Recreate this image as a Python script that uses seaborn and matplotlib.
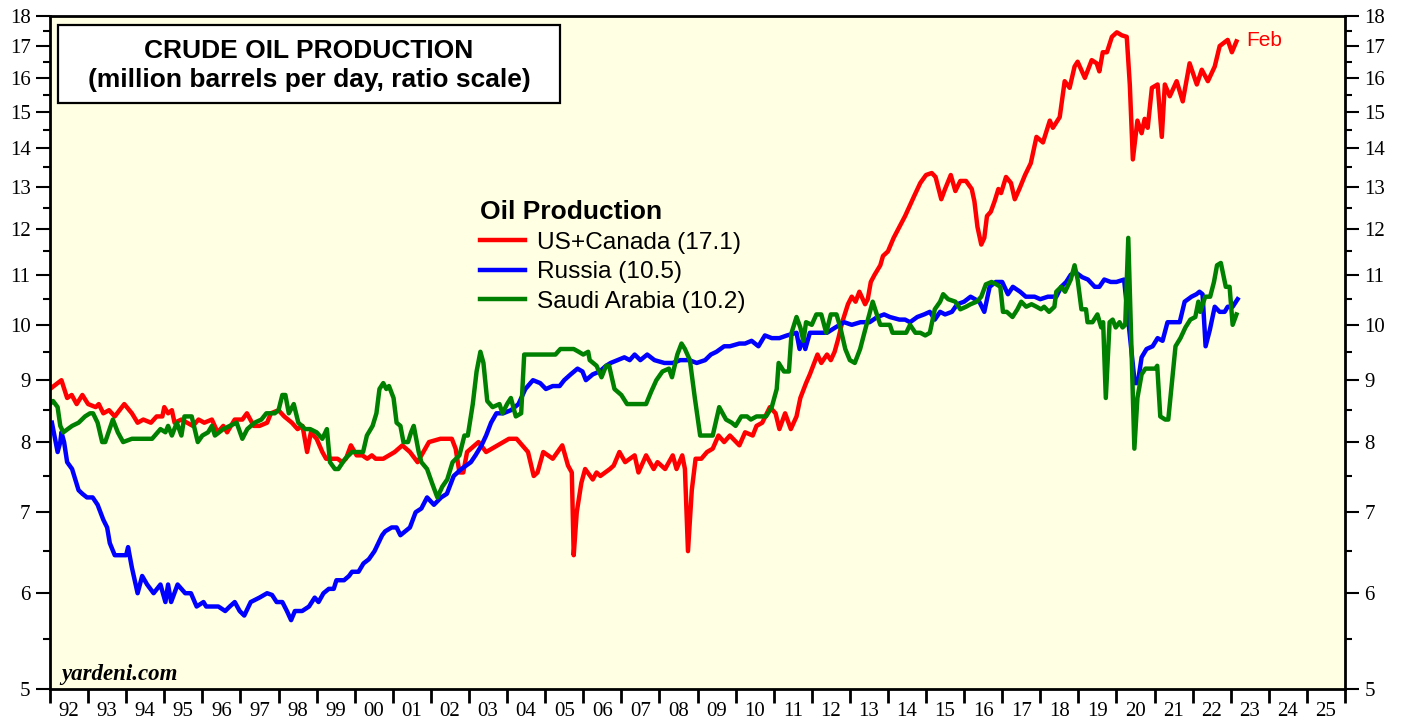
import matplotlib
matplotlib.use("Agg")
import matplotlib.pyplot as plt
import matplotlib.patches as patches
from matplotlib.ticker import FixedLocator, NullFormatter
import pandas as pd
import seaborn as sns

# monthly-ish readings (decimal year, million barrels per day)
us_year = [1992.0, 1992.2, 1992.3, 1992.45, 1992.57, 1992.7, 1992.85, 1993.0, 1993.2, 1993.28,
           1993.4, 1993.55, 1993.7, 1993.95, 1994.15, 1994.3, 1994.45, 1994.65, 1994.8, 1994.95,
           1995.0, 1995.1, 1995.2, 1995.27, 1995.45, 1995.6, 1995.75, 1995.9, 1996.05, 1996.25,
           1996.4, 1996.55, 1996.65, 1996.85, 1997.05, 1997.17, 1997.35, 1997.5, 1997.7, 1997.8,
           1998.0, 1998.15, 1998.35, 1998.5, 1998.63, 1998.75, 1998.85, 1999.0, 1999.15, 1999.25,
           1999.4, 1999.55, 1999.67, 1999.77, 1999.9, 2000.05, 2000.2, 2000.33, 2000.45, 2000.55,
           2000.75, 2001.05, 2001.25, 2001.45, 2001.65, 2001.8, 2001.95, 2002.25, 2002.55, 2002.65,
           2002.75, 2002.85, 2002.95, 2003.25, 2003.45, 2003.75, 2004.05, 2004.25, 2004.4, 2004.55,
           2004.7, 2004.8, 2004.95, 2005.2, 2005.45, 2005.6, 2005.7, 2005.75, 2005.83, 2005.95,
           2006.05, 2006.25, 2006.35, 2006.45, 2006.7, 2006.8, 2006.95, 2007.1, 2007.35, 2007.45,
           2007.65, 2007.85, 2007.95, 2008.15, 2008.35, 2008.45, 2008.6, 2008.67, 2008.75, 2008.85,
           2008.95, 2009.1, 2009.25, 2009.4, 2009.55, 2009.7, 2009.85, 2010.1, 2010.25, 2010.45,
           2010.55, 2010.7, 2010.9, 2011.05, 2011.15, 2011.3, 2011.45, 2011.6, 2011.7, 2011.85,
           2011.95, 2012.15, 2012.25, 2012.4, 2012.5, 2012.6, 2012.7, 2012.8, 2012.95, 2013.05,
           2013.15, 2013.25, 2013.4, 2013.47, 2013.55, 2013.65, 2013.8, 2013.87, 2014.0, 2014.15,
           2014.3, 2014.45, 2014.55, 2014.7, 2014.85, 2015.0, 2015.15, 2015.25, 2015.4, 2015.5,
           2015.65, 2015.77, 2015.9, 2016.05, 2016.2, 2016.27, 2016.35, 2016.45, 2016.53, 2016.6,
           2016.7, 2016.8, 2016.9, 2016.97, 2017.1, 2017.23, 2017.33, 2017.45, 2017.6, 2017.75,
           2017.9, 2018.07, 2018.25, 2018.33, 2018.51, 2018.64, 2018.77, 2018.9, 2018.98, 2019.17,
           2019.35, 2019.48, 2019.55, 2019.64, 2019.75, 2019.88, 2020.01, 2020.14, 2020.27, 2020.35,
           2020.43, 2020.55, 2020.66, 2020.74, 2020.82, 2020.93, 2021.08, 2021.19, 2021.27, 2021.4,
           2021.58, 2021.74, 2021.92, 2022.11, 2022.24, 2022.4, 2022.58, 2022.71, 2022.92, 2023.03,
           2023.15]
us_val = [8.85, 8.95, 9.0, 8.7, 8.75, 8.6, 8.75, 8.6, 8.55, 8.6,
          8.45, 8.5, 8.4, 8.6, 8.45, 8.3, 8.35, 8.3, 8.4, 8.4,
          8.55, 8.45, 8.5, 8.3, 8.35, 8.3, 8.25, 8.35, 8.3, 8.35,
          8.15, 8.25, 8.15, 8.35, 8.35, 8.45, 8.25, 8.25, 8.3, 8.45,
          8.5, 8.4, 8.3, 8.2, 8.25, 7.85, 8.15, 8.05, 7.85, 7.75,
          7.75, 7.75, 7.7, 7.75, 7.95, 7.8, 7.8, 7.75, 7.8, 7.75,
          7.75, 7.85, 7.95, 7.85, 7.7, 7.85, 8.0, 8.05, 8.05, 7.9,
          7.55, 7.55, 7.85, 8.0, 7.85, 7.95, 8.05, 8.05, 7.95, 7.85,
          7.5, 7.55, 7.85, 7.75, 7.95, 7.65, 7.55, 6.45, 7.0, 7.4,
          7.6, 7.45, 7.55, 7.5, 7.6, 7.65, 7.85, 7.7, 7.8, 7.55,
          7.8, 7.6, 7.7, 7.6, 7.8, 7.6, 7.8, 7.6, 6.5, 7.3,
          7.75, 7.75, 7.85, 7.9, 8.1, 8.0, 8.1, 7.95, 8.15, 8.1,
          8.25, 8.3, 8.55, 8.45, 8.2, 8.45, 8.2, 8.4, 8.7, 8.95,
          9.1, 9.45, 9.3, 9.45, 9.35, 9.5, 9.75, 10.05, 10.4, 10.55,
          10.45, 10.65, 10.4, 10.5, 10.85, 11.0, 11.2, 11.4, 11.5, 11.8,
          12.05, 12.3, 12.5, 12.8, 13.1, 13.3, 13.35, 13.25, 12.7, 12.95,
          13.3, 12.9, 13.15, 13.15, 12.95, 12.65, 12.05, 11.65, 11.8, 12.3,
          12.4, 12.65, 12.95, 12.85, 13.25, 13.1, 12.7, 12.95, 13.3, 13.6,
          14.3, 14.15, 14.75, 14.55, 14.85, 15.9, 15.7, 16.35, 16.5, 16.0,
          16.55, 16.45, 16.2, 16.8, 16.8, 17.3, 17.45, 17.35, 17.3, 15.8,
          13.7, 14.75, 14.4, 14.8, 14.55, 15.7, 15.8, 14.3, 15.8, 15.45,
          15.9, 15.3, 16.45, 15.8, 16.25, 15.9, 16.35, 17.0, 17.2, 16.8,
          17.15]

ru_year = [1992.05, 1992.2, 1992.27, 1992.3, 1992.37, 1992.45, 1992.58, 1992.75, 1992.85, 1992.97,
           1993.12, 1993.25, 1993.4, 1993.5, 1993.57, 1993.7, 1993.88, 1994.0, 1994.05, 1994.15,
           1994.3, 1994.42, 1994.55, 1994.72, 1994.9, 1995.03, 1995.1, 1995.18, 1995.35, 1995.55,
           1995.7, 1995.85, 1996.03, 1996.1, 1996.23, 1996.42, 1996.6, 1996.72, 1996.85, 1996.98,
           1997.1, 1997.27, 1997.5, 1997.7, 1997.83, 1997.95, 1998.1, 1998.22, 1998.33, 1998.43,
           1998.62, 1998.8, 1998.95, 1999.05, 1999.18, 1999.32, 1999.45, 1999.52, 1999.72, 1999.85,
           1999.93, 2000.1, 2000.23, 2000.37, 2000.52, 2000.72, 2000.8, 2000.97, 2001.1, 2001.2,
           2001.45, 2001.6, 2001.75, 2001.9, 2002.08, 2002.27, 2002.42, 2002.6, 2002.8, 2003.05,
           2003.17, 2003.33, 2003.45, 2003.58, 2003.72, 2003.9, 2004.1, 2004.3, 2004.48, 2004.68,
           2004.87, 2005.02, 2005.2, 2005.38, 2005.5, 2005.67, 2005.85, 2005.98, 2006.07, 2006.25,
           2006.43, 2006.6, 2006.72, 2006.9, 2007.08, 2007.22, 2007.35, 2007.5, 2007.68, 2007.87,
           2008.13, 2008.35, 2008.55, 2008.78, 2008.98, 2009.2, 2009.35, 2009.5, 2009.7, 2009.85,
           2010.1, 2010.25, 2010.42, 2010.6, 2010.77, 2010.95, 2011.15, 2011.35, 2011.6, 2011.68,
           2011.78, 2011.83, 2011.95, 2012.2, 2012.4, 2012.62, 2012.85, 2013.05, 2013.28, 2013.52,
           2013.72, 2013.9, 2014.05, 2014.3, 2014.45, 2014.58, 2014.77, 2014.95, 2015.1, 2015.23,
           2015.37, 2015.5, 2015.68, 2015.82, 2016.0, 2016.17, 2016.4, 2016.53, 2016.67, 2016.83,
           2017.0, 2017.15, 2017.28, 2017.47, 2017.62, 2017.85, 2018.0, 2018.2, 2018.42, 2018.55,
           2018.68, 2018.8, 2018.93, 2019.1, 2019.25, 2019.43, 2019.55, 2019.68, 2019.85, 2020.0,
           2020.2, 2020.48, 2020.56, 2020.66, 2020.79, 2020.95, 2021.08, 2021.21, 2021.34, 2021.47,
           2021.66, 2021.79, 2021.97, 2022.1, 2022.18, 2022.26, 2022.34, 2022.45, 2022.58, 2022.71,
           2022.84, 2022.92, 2023.05, 2023.18]
ru_val = [8.3, 7.85, 8.0, 8.15, 8.0, 7.7, 7.6, 7.3, 7.25, 7.2,
          7.2, 7.1, 6.9, 6.8, 6.6, 6.45, 6.45, 6.45, 6.55, 6.3,
          6.0, 6.2, 6.1, 6.0, 6.1, 5.9, 6.1, 5.9, 6.1, 6.0,
          6.0, 5.85, 5.9, 5.85, 5.85, 5.85, 5.8, 5.85, 5.9, 5.8,
          5.75, 5.9, 5.95, 6.0, 5.98, 5.9, 5.9, 5.8, 5.7, 5.8,
          5.8, 5.85, 5.95, 5.9, 6.0, 6.05, 6.05, 6.15, 6.15, 6.2,
          6.25, 6.25, 6.35, 6.4, 6.5, 6.7, 6.75, 6.8, 6.8, 6.7,
          6.8, 7.0, 7.05, 7.2, 7.1, 7.2, 7.25, 7.5, 7.6, 7.7,
          7.8, 7.95, 8.1, 8.3, 8.45, 8.45, 8.5, 8.6, 8.85, 9.0,
          8.95, 8.85, 8.9, 8.9, 9.0, 9.1, 9.2, 9.15, 9.0, 9.1,
          9.15, 9.25, 9.3, 9.35, 9.4, 9.35, 9.45, 9.35, 9.45, 9.35,
          9.3, 9.3, 9.35, 9.35, 9.3, 9.35, 9.45, 9.5, 9.6, 9.6,
          9.65, 9.65, 9.7, 9.6, 9.8, 9.75, 9.75, 9.8, 9.85, 9.55,
          9.75, 9.55, 9.85, 9.85, 9.85, 9.95, 10.05, 10.0, 10.05, 10.05,
          10.15, 10.2, 10.15, 10.1, 10.1, 10.05, 10.15, 10.2, 10.25, 10.1,
          10.25, 10.2, 10.25, 10.4, 10.45, 10.55, 10.45, 10.25, 10.75, 10.85,
          10.85, 10.6, 10.75, 10.65, 10.55, 10.55, 10.5, 10.55, 10.55, 10.75,
          10.85, 11.0, 11.05, 10.95, 10.9, 10.75, 10.75, 10.9, 10.85, 10.85,
          10.9, 8.95, 8.95, 9.4, 9.55, 9.6, 9.75, 9.7, 10.05, 10.05,
          10.05, 10.45, 10.55, 10.6, 10.65, 10.6, 9.6, 9.9, 10.35, 10.25,
          10.25, 10.35, 10.35, 10.5]

sa_year = [1992.0, 1992.08, 1992.2, 1992.27, 1992.35, 1992.58, 1992.75, 1992.92, 1993.05, 1993.13,
           1993.25, 1993.37, 1993.45, 1993.65, 1993.78, 1993.92, 1994.15, 1994.42, 1994.68, 1994.9,
           1995.03, 1995.1, 1995.2, 1995.33, 1995.45, 1995.53, 1995.72, 1995.88, 1996.0, 1996.15,
           1996.25, 1996.33, 1996.55, 1996.72, 1996.9, 1997.05, 1997.18, 1997.37, 1997.55, 1997.68,
           1997.9, 1998.0, 1998.1, 1998.18, 1998.27, 1998.4, 1998.52, 1998.7, 1998.83, 1999.0,
           1999.15, 1999.27, 1999.35, 1999.48, 1999.57, 1999.75, 1999.93, 2000.1, 2000.22, 2000.32,
           2000.47, 2000.57, 2000.65, 2000.75, 2000.83, 2000.9, 2001.02, 2001.1, 2001.2, 2001.28,
           2001.4, 2001.48, 2001.55, 2001.68, 2001.75, 2001.9, 2002.03, 2002.17, 2002.3, 2002.43,
           2002.57, 2002.75, 2002.88, 2002.97, 2003.1, 2003.2, 2003.3, 2003.38, 2003.48, 2003.62,
           2003.8, 2003.88, 2004.0, 2004.1, 2004.23, 2004.37, 2004.45, 2004.8, 2005.27, 2005.4,
           2005.75, 2005.88, 2006.0, 2006.13, 2006.17, 2006.35, 2006.48, 2006.6, 2006.68, 2006.82,
           2007.0, 2007.15, 2007.65, 2007.78, 2007.92, 2008.08, 2008.25, 2008.33, 2008.47, 2008.58,
           2008.67, 2008.8, 2008.93, 2009.07, 2009.4, 2009.57, 2009.75, 2009.9, 2010.0, 2010.15,
           2010.3, 2010.4, 2010.55, 2010.8, 2010.95, 2011.08, 2011.13, 2011.27, 2011.4, 2011.47,
           2011.6, 2011.7, 2011.78, 2011.85, 2012.0, 2012.12, 2012.25, 2012.38, 2012.5, 2012.65,
           2012.75, 2012.88, 2013.0, 2013.13, 2013.27, 2013.4, 2013.53, 2013.6, 2013.73, 2013.8,
           2014.05, 2014.12, 2014.33, 2014.48, 2014.58, 2014.72, 2014.85, 2014.98, 2015.1, 2015.23,
           2015.37, 2015.45, 2015.58, 2015.77, 2015.9, 2016.05, 2016.17, 2016.33, 2016.45, 2016.57,
           2016.72, 2016.85, 2016.95, 2017.02, 2017.12, 2017.27, 2017.4, 2017.5, 2017.63, 2017.77,
           2017.9, 2018.02, 2018.1, 2018.23, 2018.37, 2018.42, 2018.55, 2018.65, 2018.8, 2018.9,
           2018.98, 2019.08, 2019.2, 2019.24, 2019.37, 2019.5, 2019.6, 2019.65, 2019.72, 2019.82,
           2019.9, 2019.98, 2020.08, 2020.16, 2020.23, 2020.31, 2020.47, 2020.55, 2020.66, 2020.76,
           2021.02, 2021.07, 2021.15, 2021.28, 2021.36, 2021.44, 2021.55, 2021.68, 2021.81, 2021.94,
           2022.07, 2022.15, 2022.2, 2022.33, 2022.46, 2022.56, 2022.64, 2022.74, 2022.87, 2022.97,
           2023.05, 2023.15]
sa_val = [8.6, 8.65, 8.55, 8.25, 8.15, 8.25, 8.3, 8.4, 8.45, 8.45,
          8.3, 8.0, 8.0, 8.35, 8.15, 8.0, 8.05, 8.05, 8.05, 8.2,
          8.15, 8.25, 8.1, 8.3, 8.1, 8.4, 8.4, 8.0, 8.1, 8.15,
          8.25, 8.1, 8.2, 8.25, 8.3, 8.05, 8.2, 8.3, 8.35, 8.45,
          8.45, 8.5, 8.75, 8.75, 8.45, 8.6, 8.3, 8.2, 8.2, 8.15,
          8.05, 8.2, 7.7, 7.6, 7.6, 7.75, 7.85, 7.85, 7.85, 8.1,
          8.25, 8.45, 8.85, 8.95, 8.85, 8.9, 8.7, 8.3, 8.25, 8.0,
          8.0, 8.15, 8.25, 7.85, 7.7, 7.6, 7.4, 7.2, 7.35, 7.45,
          7.7, 7.8, 8.1, 8.1, 8.6, 9.15, 9.5, 9.3, 8.65, 8.55,
          8.6, 8.45, 8.6, 8.7, 8.4, 8.45, 9.45, 9.45, 9.45, 9.55,
          9.55, 9.5, 9.45, 9.5, 9.35, 9.25, 9.05, 9.25, 9.25, 8.85,
          8.75, 8.6, 8.6, 8.8, 9.0, 9.15, 9.2, 9.05, 9.45, 9.65,
          9.55, 9.35, 8.7, 8.1, 8.1, 8.55, 8.35, 8.3, 8.25, 8.4,
          8.4, 8.35, 8.4, 8.4, 8.55, 8.85, 9.3, 9.15, 9.15, 9.85,
          10.15, 9.95, 9.7, 10.05, 10.0, 10.2, 10.2, 9.85, 10.2, 10.2,
          9.95, 9.55, 9.35, 9.3, 9.55, 9.9, 10.25, 10.45, 10.15, 10.0,
          10.0, 9.85, 9.85, 9.85, 10.0, 9.85, 9.85, 9.8, 9.85, 10.3,
          10.45, 10.6, 10.5, 10.45, 10.3, 10.35, 10.4, 10.45, 10.55, 10.8,
          10.85, 10.8, 10.75, 10.25, 10.25, 10.15, 10.3, 10.45, 10.35, 10.4,
          10.35, 10.3, 10.35, 10.25, 10.35, 10.65, 10.75, 10.65, 10.9, 11.2,
          10.9, 10.3, 10.3, 10.05, 10.05, 10.2, 9.95, 10.05, 8.7, 10.05,
          10.1, 9.95, 10.05, 9.95, 10.0, 11.8, 7.9, 8.7, 9.1, 9.2,
          9.2, 9.25, 8.4, 8.35, 8.35, 8.85, 9.6, 9.75, 9.95, 10.1,
          10.15, 10.45, 10.25, 10.55, 10.55, 10.85, 11.2, 11.25, 10.75, 10.75,
          10.0, 10.2]

labels = ["US+Canada (17.1)", "Russia (10.5)", "Saudi Arabia (10.2)"]
colors = ["#ff0000", "#0000ff", "#008000"]
y_ticks = list(range(5, 19))
year_labels = [f"{y % 100:02d}" for y in range(1992, 2026)]

df = pd.concat([
    pd.DataFrame({"year": us_year, "mbd": us_val, "series": labels[0]}),
    pd.DataFrame({"year": ru_year, "mbd": ru_val, "series": labels[1]}),
    pd.DataFrame({"year": sa_year, "mbd": sa_val, "series": labels[2]}),
])

sans = ["Liberation Sans", "DejaVu Sans"]
serif = ["Liberation Serif", "DejaVu Serif"]
plt.rcParams["font.family"] = sans

fig = plt.figure(figsize=(14.05, 7.21), dpi=100)
ax = fig.add_axes([50 / 1405, 32 / 721, 1295 / 1405, 673 / 721])
ax.set_facecolor("#ffffe3")

sns.lineplot(data=df, x="year", y="mbd", hue="series", palette=dict(zip(labels, colors)),
             estimator=None, sort=False, linewidth=3.2, ax=ax)

ax.set_yscale("log")
ax.set_ylim(5, 18)
ax.set_xlim(1992, 2026)

# y axis: labels on both sides, half-unit minor ticks
ax.yaxis.set_major_locator(FixedLocator(y_ticks))
ax.yaxis.set_minor_locator(FixedLocator([v + 0.5 for v in y_ticks[:-1]]))
ax.set_yticklabels([str(v) for v in y_ticks], family=serif, fontsize=15)
ax.yaxis.set_minor_formatter(NullFormatter())
ax.tick_params(axis="y", which="major", direction="out", length=10, width=1.5,
               left=True, right=True, labelleft=True, labelright=True, pad=4)
ax.tick_params(axis="y", which="minor", direction="out", length=5, width=1.5,
               left=True, right=True)

# x axis: tick marks at year boundaries, labels centred in each year
ax.xaxis.set_major_locator(FixedLocator(list(range(1992, 2027))))
ax.xaxis.set_minor_locator(FixedLocator([y + 0.5 for y in range(1992, 2026)]))
ax.xaxis.set_major_formatter(NullFormatter())
ax.set_xticklabels(year_labels, minor=True, family=serif, fontsize=15)
ax.tick_params(axis="x", which="major", direction="out", length=10, width=2)
ax.tick_params(axis="x", which="minor", length=0, pad=9)

ax.set_xlabel("")
ax.set_ylabel("")
for s in ax.spines.values():
    s.set_linewidth(2)
    s.set_color("black")

# legend
handles, labs = ax.get_legend_handles_labels()
leg = ax.legend(handles, labs, title="Oil Production", loc="upper left",
                bbox_to_anchor=(0.332, 0.726), frameon=False, alignment="left",
                prop={"family": sans, "size": 17.6},
                title_fontproperties={"family": sans, "size": 19, "weight": "bold"},
                handlelength=1.85, handletextpad=0.5, labelspacing=0.3,
                borderaxespad=0, borderpad=0)
for line in leg.get_lines():
    line.set_linewidth(3.2)

# title box
ax.add_patch(patches.Rectangle((0.0062, 0.8707), 0.3876, 0.1159, transform=ax.transAxes,
                               facecolor="white", edgecolor="black", linewidth=1.6, zorder=5))
ax.text(0.2, 0.948, "CRUDE OIL PRODUCTION", transform=ax.transAxes, ha="center", va="center",
        fontsize=19, fontweight="bold", zorder=6)
ax.text(0.2, 0.905, "(million barrels per day, ratio scale)", transform=ax.transAxes,
        ha="center", va="center", fontsize=19, fontweight="bold", zorder=6)

ax.annotate("Feb", xy=(us_year[-1], us_val[-1]), xytext=(7, 1), textcoords="offset points",
            color="#ff0000", fontsize=15, va="center", ha="left")

ax.text(0.009, 0.021, "yardeni.com", transform=ax.transAxes, family=serif, fontsize=16.5,
        fontweight="bold", fontstyle="italic", va="center", ha="left")

fig.savefig("out.png", dpi=100)
